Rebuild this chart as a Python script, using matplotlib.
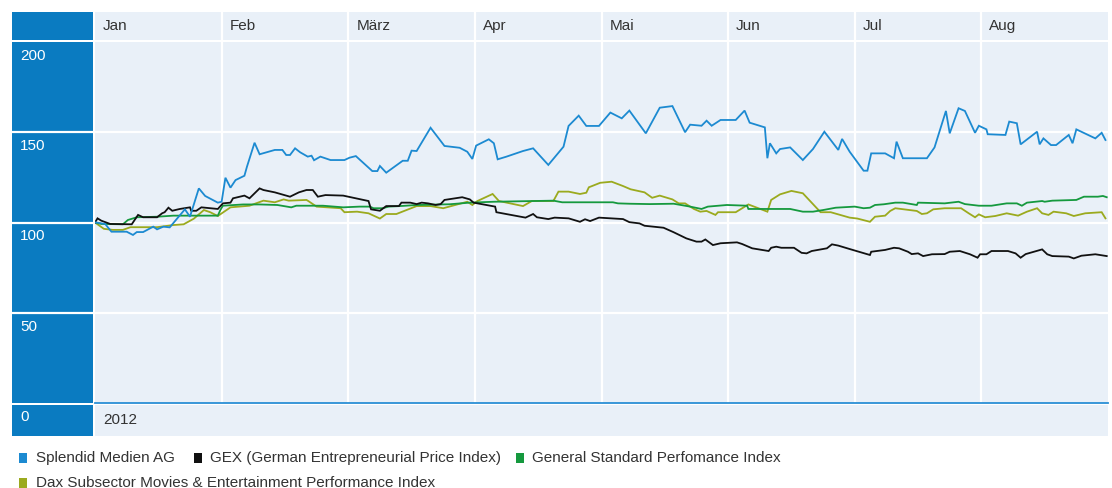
import matplotlib
matplotlib.use("Agg")
import matplotlib.pyplot as plt
from matplotlib.patches import Rectangle

# ---------------- data ----------------
months = ["Jan", "Feb", "März", "Apr", "Mai", "Jun", "Jul", "Aug"]
year_label = "2012"
y_ticks = [0, 50, 100, 150, 200]

series_names = [
    "Splendid Medien AG",
    "GEX (German Entrepreneurial Price Index)",
    "General Standard Perfomance Index",
    "Dax Subsector Movies & Entertainment Performance Index",
]

# time positions in months since 1 Jan 2012 (0 = start of Jan, 8 = end of Aug)
splendid_t = [
    0.00, 0.01, 0.08, 0.13, 0.25, 0.30, 0.33, 0.38, 0.46, 0.49,
    0.54, 0.59, 0.71, 0.75, 0.82, 0.87, 0.97, 1.00, 1.03, 1.07,
    1.11, 1.18, 1.20, 1.26, 1.30, 1.42, 1.48, 1.51, 1.54, 1.58,
    1.62, 1.68, 1.71, 1.73, 1.78, 1.86, 1.97, 2.01, 2.06, 2.19,
    2.23, 2.25, 2.30, 2.43, 2.47, 2.50, 2.54, 2.65, 2.76, 2.88,
    2.94, 2.98, 3.01, 3.11, 3.15, 3.18, 3.25, 3.38, 3.46, 3.58,
    3.70, 3.74, 3.82, 3.88, 3.98, 4.07, 4.16, 4.22, 4.35, 4.46,
    4.56, 4.66, 4.70, 4.79, 4.83, 4.87, 4.94, 5.06, 5.13, 5.17,
    5.29, 5.31, 5.33, 5.38, 5.41, 5.49, 5.59, 5.67, 5.76, 5.87,
    5.90, 5.96, 6.07, 6.10, 6.13, 6.24, 6.31, 6.33, 6.38, 6.57,
    6.63, 6.72, 6.75, 6.82, 6.87, 6.95, 6.98, 7.04, 7.05, 7.19,
    7.22, 7.28, 7.31, 7.44, 7.46, 7.49, 7.55, 7.59, 7.69, 7.72,
    7.75, 7.90, 7.95, 7.98,
]
splendid_v = [
    100, 100, 99.2, 94.9, 94.9, 93.1, 94.7, 94.7, 97.7, 96.2,
    97.7, 97.3, 107.3, 103.2, 118.9, 114.7, 111.0, 111.5, 124.8, 119.3,
    123.5, 125.9, 130.9, 144.2, 137.8, 140.2, 140.2, 137.4, 137.4, 141.1,
    138.9, 136.5, 137.0, 134.5, 136.5, 134.6, 134.6, 135.9, 136.8, 128.5,
    128.5, 131.3, 127.6, 134.2, 134.2, 139.8, 139.6, 152.5, 142.4, 141.4,
    139.2, 135.2, 142.6, 146.1, 143.9, 135.0, 136.5, 139.6, 141.1, 131.9,
    142.0, 153.5, 159.2, 153.5, 153.5, 160.9, 157.7, 162.0, 149.4, 163.6,
    164.5, 150.0, 154.2, 153.6, 156.4, 153.6, 156.8, 156.8, 162.0, 155.3,
    152.7, 135.6, 143.9, 138.3, 140.7, 141.6, 134.6, 140.7, 150.3, 140.2,
    146.3, 139.2, 128.7, 128.7, 138.3, 138.3, 135.6, 144.8, 135.6, 135.6,
    141.6, 161.8, 149.4, 163.3, 161.8, 149.7, 153.6, 151.6, 148.9, 148.5,
    155.9, 155.0, 143.3, 150.3, 143.3, 146.6, 142.9, 142.9, 148.5, 143.9,
    151.6, 146.6, 149.7, 145.7,
]

gex_t = [
    0.00, 0.02, 0.05, 0.12, 0.29, 0.34, 0.38, 0.49, 0.53, 0.55,
    0.58, 0.61, 0.67, 0.75, 0.76, 0.80, 0.84, 0.97, 1.01, 1.07,
    1.09, 1.18, 1.22, 1.30, 1.33, 1.42, 1.54, 1.61, 1.67, 1.72,
    1.76, 1.82, 1.96, 2.16, 2.18, 2.25, 2.30, 2.40, 2.42, 2.49,
    2.54, 2.58, 2.63, 2.69, 2.73, 2.76, 2.90, 2.96, 2.99, 3.16,
    3.17, 3.40, 3.46, 3.49, 3.58, 3.63, 3.74, 3.83, 3.87, 3.91,
    3.98, 4.17, 4.22, 4.30, 4.34, 4.49, 4.57, 4.67, 4.75, 4.79,
    4.82, 4.88, 4.94, 5.07, 5.11, 5.19, 5.32, 5.34, 5.38, 5.42,
    5.52, 5.58, 5.62, 5.66, 5.78, 5.82, 5.87, 5.96, 6.12, 6.13,
    6.24, 6.31, 6.35, 6.42, 6.45, 6.50, 6.54, 6.61, 6.71, 6.75,
    6.83, 6.91, 6.97, 6.99, 7.04, 7.08, 7.21, 7.27, 7.31, 7.35,
    7.40, 7.48, 7.52, 7.56, 7.69, 7.73, 7.79, 7.90, 7.99,
]
gex_v = [
    100, 102.3, 101.0, 99.2, 99.0, 104.2, 102.9, 102.9, 105.1, 105.7,
    108.2, 106.5, 107.5, 108.4, 106.5, 106.5, 108.4, 107.5, 110.6, 111.0,
    113.4, 114.9, 113.4, 118.9, 118.0, 116.7, 114.3, 116.7, 118.0, 118.0,
    114.3, 115.2, 114.9, 111.9, 107.3, 106.5, 109.1, 109.1, 111.0, 111.0,
    110.2, 111.0, 110.6, 109.7, 110.2, 112.5, 114.0, 112.8, 111.0, 108.8,
    105.7, 102.7, 104.7, 102.9, 101.9, 102.7, 102.3, 100.4, 101.8, 100.8,
    102.7, 101.9, 100.2, 99.5, 98.2, 97.1, 94.6, 91.2, 89.4, 89.4,
    90.6, 87.5, 88.5, 89.0, 88.1, 85.7, 84.2, 86.0, 86.6, 86.0,
    86.0, 83.2, 82.9, 84.2, 85.7, 87.9, 87.2, 85.3, 82.0, 83.8,
    84.8, 86.0, 85.7, 83.8, 82.5, 82.9, 81.4, 82.4, 82.5, 83.8,
    84.2, 82.4, 80.5, 82.4, 82.4, 84.2, 84.2, 82.9, 80.5, 82.5,
    83.5, 85.1, 82.4, 81.4, 81.1, 80.1, 81.6, 82.4, 81.4,
]

gstd_t = [
    0.00, 0.05, 0.22, 0.26, 0.33, 0.49, 0.62, 0.97, 0.99, 1.01,
    1.17, 1.30, 1.44, 1.55, 1.59, 1.80, 1.96, 2.09, 2.17, 2.20,
    2.27, 2.32, 2.41, 2.54, 2.80, 2.96, 3.15, 3.62, 3.69, 4.09,
    4.13, 4.22, 4.38, 4.57, 4.70, 4.79, 4.84, 4.99, 5.15, 5.16,
    5.49, 5.59, 5.67, 5.75, 5.85, 6.00, 6.07, 6.12, 6.16, 6.23,
    6.32, 6.38, 6.49, 6.50, 6.71, 6.82, 6.87, 6.98, 7.08, 7.20,
    7.28, 7.32, 7.36, 7.48, 7.50, 7.56, 7.75, 7.81, 7.92, 7.96, 7.99,
]
gstd_v = [
    100, 99.2, 99.0, 101.4, 102.9, 103.2, 103.8, 103.8, 106.9, 109.3,
    110.0, 110.0, 109.7, 108.4, 109.3, 109.3, 108.4, 108.8, 108.8, 107.9,
    107.9, 108.8, 109.1, 109.7, 110.1, 111.0, 111.5, 112.1, 111.2, 111.2,
    110.6, 110.4, 110.2, 110.4, 108.8, 107.5, 108.8, 109.7, 109.3, 107.5,
    107.5, 106.0, 106.0, 106.9, 108.2, 108.8, 107.9, 108.2, 109.7, 110.1,
    111.0, 111.0, 109.7, 111.0, 110.6, 111.5, 110.2, 109.3, 109.3, 110.6,
    110.6, 109.3, 111.0, 111.9, 111.5, 112.1, 112.5, 114.3, 114.3, 114.7, 114.0,
]

dax_t = [
    0.00, 0.07, 0.14, 0.22, 0.28, 0.49, 0.62, 0.70, 0.78, 0.86,
    0.91, 0.97, 1.07, 1.22, 1.33, 1.42, 1.49, 1.53, 1.67, 1.68,
    1.75, 1.94, 1.97, 2.07, 2.16, 2.25, 2.30, 2.38, 2.54, 2.65,
    2.75, 2.94, 2.98, 3.02, 3.14, 3.19, 3.38, 3.45, 3.62, 3.66,
    3.74, 3.83, 3.88, 3.90, 3.99, 4.08, 4.17, 4.23, 4.34, 4.40,
    4.46, 4.56, 4.61, 4.66, 4.73, 4.78, 4.83, 4.90, 4.92, 5.06,
    5.16, 5.31, 5.34, 5.41, 5.50, 5.59, 5.73, 5.81, 5.96, 6.02,
    6.12, 6.16, 6.24, 6.28, 6.32, 6.49, 6.53, 6.57, 6.62, 6.71,
    6.84, 6.90, 6.95, 6.98, 7.03, 7.11, 7.20, 7.29, 7.36, 7.44,
    7.48, 7.53, 7.57, 7.67, 7.73, 7.82, 7.95, 7.98,
]
dax_v = [
    100, 96.5, 95.9, 95.9, 97.4, 97.4, 98.6, 99.0, 102.1, 106.9,
    105.7, 103.6, 108.4, 109.3, 112.1, 111.2, 112.8, 112.1, 112.5, 112.1,
    108.8, 107.9, 105.7, 106.0, 105.1, 102.2, 104.7, 104.7, 109.1, 109.1,
    107.9, 111.5, 109.7, 111.9, 115.8, 111.9, 109.1, 111.9, 111.9, 117.1,
    117.1, 115.8, 116.5, 119.5, 122.0, 122.6, 120.2, 118.4, 116.7, 113.7,
    114.9, 112.8, 110.6, 110.6, 107.5, 106.0, 106.4, 104.2, 105.7, 105.7,
    110.0, 106.0, 112.5, 115.6, 117.5, 116.2, 105.7, 105.7, 102.7, 102.2,
    100.4, 103.2, 103.8, 106.4, 107.9, 106.4, 104.7, 105.1, 107.3, 107.9,
    107.9, 105.1, 102.9, 104.5, 102.9, 103.6, 105.1, 103.8, 106.0, 107.9,
    105.1, 104.2, 106.0, 105.1, 103.6, 105.1, 105.7, 102.3,
]

# ---------------- style ----------------
W, H = 1112, 488
COL_BLUE = "#0A7BC1"
BG = "#E9F0F8"
TXT = "#333333"
LINE_COLORS = ["#1C8AD1", "#111111", "#15993E", "#9BAA1E"]
FONT = ["Liberation Sans", "DejaVu Sans"]
FS = 11

plt.rcParams["font.family"] = FONT


def box(x0, y0, x1, y1):
    return [x0 / W, 1 - y1 / H, (x1 - x0) / W, (y1 - y0) / H]


def blank(ax, color):
    ax.set_facecolor(color)
    ax.set_xticks([])
    ax.set_yticks([])
    for s in ax.spines.values():
        s.set_visible(False)


fig = plt.figure(figsize=(W / 100, H / 100), dpi=100)
fig.patch.set_facecolor("white")

n_months = len(months)
ymax = y_ticks[-1]

# left blue column cells
col_head = fig.add_axes(box(12, 12, 93, 40))
blank(col_head, COL_BLUE)
col_foot = fig.add_axes(box(12, 405, 93, 436))
blank(col_foot, COL_BLUE)
col_main = fig.add_axes(box(12, 42, 93, 403))
blank(col_main, COL_BLUE)
col_main.set_ylim(0, ymax)
col_main.set_xlim(0, 1)
col_main.set_zorder(5)
col_main.patch.set_visible(True)
for yt in y_ticks[1:-1]:
    col_main.axhline(yt, color="white", lw=1.6)

for yt in y_ticks:
    col_main.annotate(str(yt), (0, yt), xytext=(5.8, -10), textcoords="offset points",
                      ha="left", va="center", color="white", fontsize=FS,
                      annotation_clip=False, zorder=10)

# header band with month labels
head = fig.add_axes(box(95, 12, 1108, 40))
blank(head, BG)
head.set_xlim(0, n_months)
head.set_ylim(0, 1)
for i in range(1, n_months):
    head.axvline(i, color="white", lw=1.6)
for i, m in enumerate(months):
    head.annotate(m, (i, 0.5), xytext=(5.8, 0), textcoords="offset points",
                  ha="left", va="center", color=TXT, fontsize=FS)

# footer band with year
foot = fig.add_axes(box(95, 405, 1108, 436))
blank(foot, BG)
foot.set_xlim(0, n_months)
foot.set_ylim(0, 1)
foot.annotate(year_label, (0, 0.5), xytext=(5.8, 0), textcoords="offset points",
              ha="left", va="center", color=TXT, fontsize=FS)

# main plot
ax = fig.add_axes(box(95, 42, 1108, 403))
ax.set_facecolor(BG)
ax.set_xlim(0, n_months)
ax.set_ylim(0, ymax)
ax.set_xticks(range(1, n_months))
ax.set_yticks(y_ticks[1:-1])
ax.tick_params(length=0, labelbottom=False, labelleft=False)
ax.grid(True, color="white", lw=1.6)
ax.set_axisbelow(True)
for s in ["top", "left", "right"]:
    ax.spines[s].set_visible(False)
ax.spines["bottom"].set_color("#2A8FD5")
ax.spines["bottom"].set_linewidth(1.3)

data = [(splendid_t, splendid_v), (gex_t, gex_v), (gstd_t, gstd_v), (dax_t, dax_v)]
zorders = [6, 5, 4, 3]
for (t, v), c, z in zip(data, LINE_COLORS, zorders):
    ax.plot(t, v, color=c, lw=1.3, zorder=z, solid_joinstyle="miter")

# legend (manual, to match layout)
legend_pos = [(19, 452.5, 35.5), (194, 452.5, 210), (516, 452.5, 532), (19, 477.5, 35.5)]
for name, c, (sx, sy, tx) in zip(series_names, LINE_COLORS, legend_pos):
    fig.patches.append(Rectangle((sx / W, 1 - (sy + 10.5) / H), 8 / W, 10.5 / H,
                                 transform=fig.transFigure, facecolor=c,
                                 edgecolor="none", figure=fig))
    fig.text(tx / W, 1 - (sy + 5.5) / H, name, ha="left", va="center",
             color=TXT, fontsize=FS)

fig.savefig("out.png", dpi=100, facecolor="white")
